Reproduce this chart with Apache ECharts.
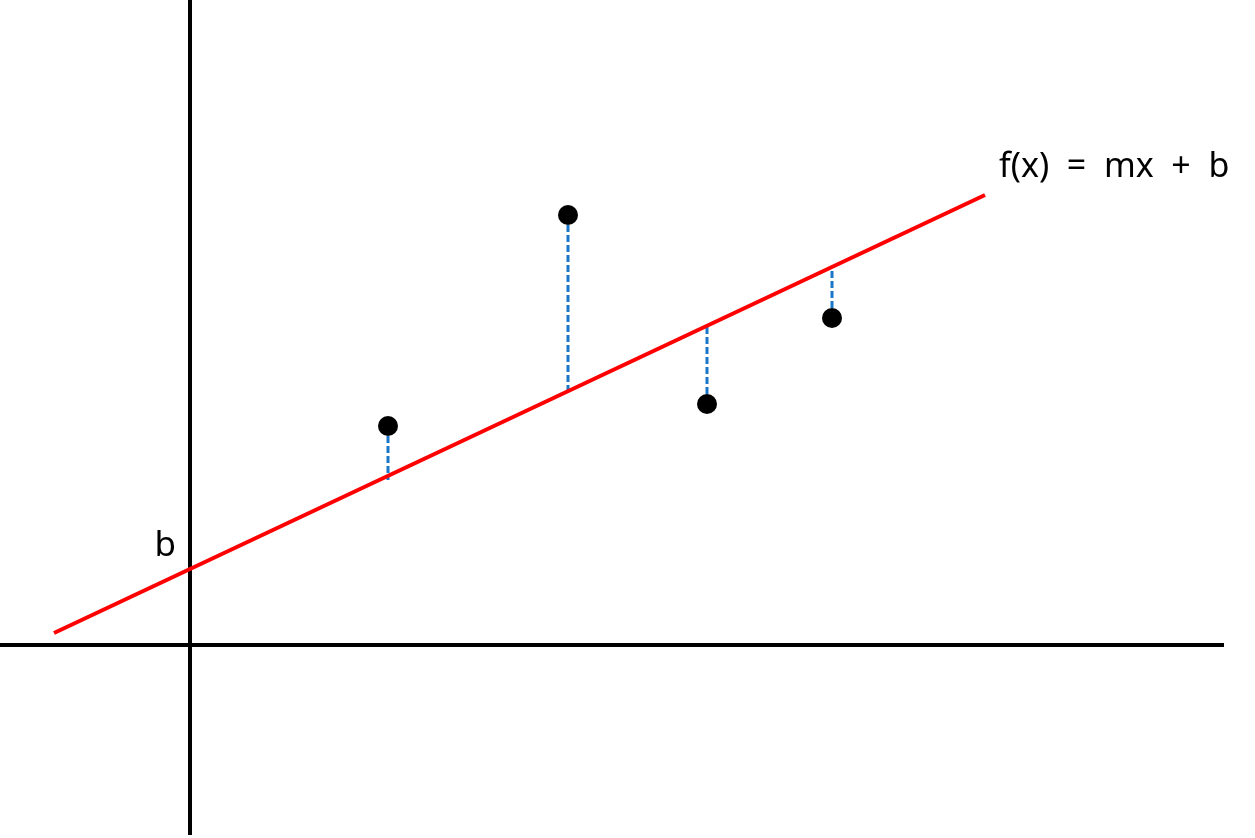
<!DOCTYPE html>
<html>
<head>
<meta charset="utf-8">
<script src="https://cdn.jsdelivr.net/npm/echarts@6/dist/echarts.min.js"></script>
<style>html,body{margin:0;padding:0;background:#fff;}#c{width:1255px;height:838px;}</style>
</head>
<body>
<div id="c"></div>
<script>
// Data (units: arbitrary, origin at axes crossing)
const pointX = [1.98, 3.78, 5.17, 6.42];
const pointY = [2.19, 4.30, 2.41, 3.27];
const fitY = [1.65, 2.50, 3.18, 3.77];
const lineX = [-1.36, 7.95];
const lineY = [0.12, 4.50];
const vAxisY = [6.6, -1.90];
const hAxisX = [-1.95, 10.34];
const formulaLabel = 'f(x)  =  mx  +  b';
const interceptLabel = 'b';

const chart = echarts.init(document.getElementById('c'));

const dashData = [];
pointX.forEach((x, i) => {
  dashData.push([x, pointY[i]]);
  dashData.push([x, fitY[i]]);
  dashData.push(null);
});

chart.setOption({
  animation: false,
  backgroundColor: '#ffffff',
  grid: { left: 0, right: 0, top: 0, bottom: 0 },
  xAxis: { type: 'value', min: -1.9, max: 10.65, show: false },
  yAxis: { type: 'value', min: -1.93, max: 6.45, show: false },
  series: [
    {
      type: 'line', data: [[0, vAxisY[0]], [0, vAxisY[1]]], symbol: 'none',
      lineStyle: { color: '#000', width: 4 }, silent: true, z: 1
    },
    {
      type: 'line', data: [[hAxisX[0], 0], [hAxisX[1], 0]], symbol: 'none',
      lineStyle: { color: '#000', width: 4 }, silent: true, z: 1
    },
    {
      type: 'line', data: dashData, symbol: 'none', connectNulls: false,
      lineStyle: { color: '#1a76c8', width: 3, type: [7, 3] }, z: 2
    },
    {
      type: 'line', data: [[lineX[0], lineY[0]], [lineX[1], lineY[1]]], symbol: 'none',
      lineStyle: { color: '#ff0000', width: 4 }, z: 3
    },
    {
      type: 'scatter', data: pointX.map((x, i) => [x, pointY[i]]),
      symbolSize: 20, itemStyle: { color: '#000', opacity: 1 }, z: 4
    }
  ],
  graphic: [
    {
      type: 'text', x: 999, y: 167,
      style: { text: formulaLabel, font: '34px "Noto Sans"', fill: '#000', verticalAlign: 'middle', align: 'left' }
    },
    {
      type: 'text', x: 176, y: 546,
      style: { text: interceptLabel, font: '35px "Noto Sans"', fill: '#000', verticalAlign: 'middle', align: 'right' }
    }
  ]
});
</script>
</body>
</html>
